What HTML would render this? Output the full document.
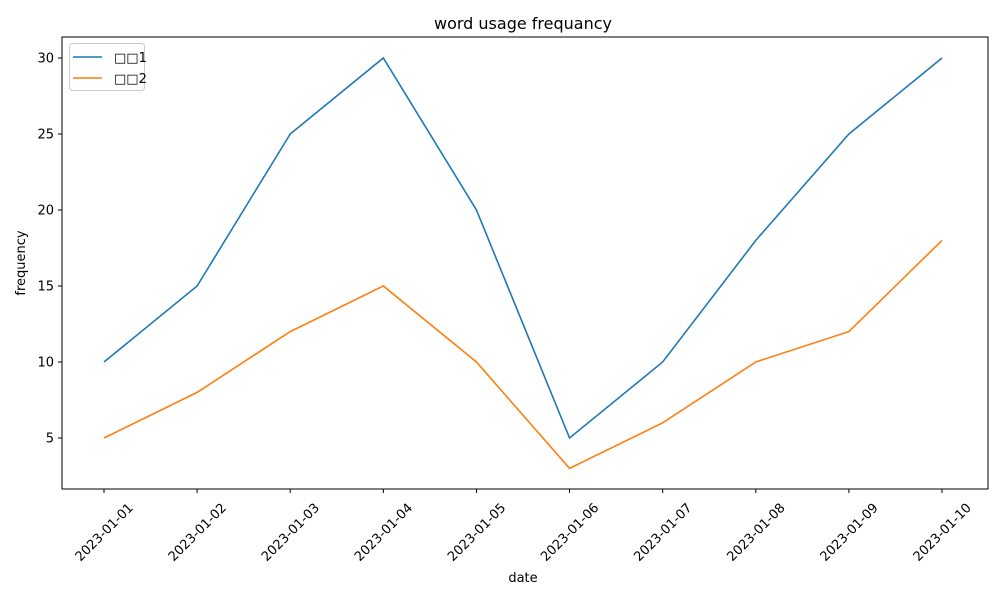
<!DOCTYPE html>
<html><head><meta charset="utf-8"><style>
body{margin:0;background:#fff;}
svg{display:block;font-family:"DejaVu Sans","Liberation Sans",sans-serif;}
</style></head><body>
<svg id="chart" width="1000" height="600"></svg>
<script>
const categories=["2023-01-01","2023-01-02","2023-01-03","2023-01-04","2023-01-05","2023-01-06","2023-01-07","2023-01-08","2023-01-09","2023-01-10"];
const series1=[10,15,25,30,20,5,10,18,25,30];
const series2=[5,8,12,15,10,3,6,10,12,18];
const seriesNames=["□□1","□□2"];
const yTicks=[5,10,15,20,25,30];
const NS="http://www.w3.org/2000/svg";
const svg=document.getElementById('chart');
const L=62,R=988,T=37,B=489;
const xs=i=>104+i*(942-104)/(categories.length-1);
const ys=v=>438-(v-5)*15.2;
function mk(tag,attrs,parent){const e=document.createElementNS(NS,tag);for(const k in attrs)e.setAttribute(k,attrs[k]);(parent||svg).appendChild(e);return e;}
let t=mk('text',{x:523,y:29,'text-anchor':'middle','font-size':16,fill:'#000'});t.textContent='word usage frequancy';


yTicks.forEach(v=>{
 const l=mk('line',{x1:L-4,x2:L,y1:ys(v),y2:ys(v),stroke:'#000'});
 
 
 const tx=mk('text',{x:L-8,y:ys(v)+4.5,'text-anchor':'end','font-size':13,fill:'#000'});tx.textContent=v;
 
 
});
categories.forEach((c,i)=>{
 const l=mk('line',{x1:xs(i),x2:xs(i),y1:B,y2:B+4,stroke:'#000'});
 
 
 const tx=mk('text',{x:0,y:4.5,'text-anchor':'middle','font-size':13,fill:'#000',transform:`translate(${xs(i)},532) rotate(-45)`});tx.textContent=c;
 
 
});
t=mk('text',{x:523,y:582,'text-anchor':'middle','font-size':13});t.textContent='date';


t=mk('text',{x:0,y:0,'text-anchor':'middle','font-size':13,transform:'translate(25,263) rotate(-90)'});t.textContent='frequency';


[[series1,'#1f77b4'],[series2,'#ff7f0e']].forEach(([s,c],k)=>{
 const p=mk('polyline',{points:s.map((v,i)=>xs(i)+','+ys(v)).join(' '),fill:'none',stroke:c,'stroke-width':1.6});
 
 
});
const fr=mk('rect',{x:L,y:T,width:R-L,height:B-T,fill:'none',stroke:'#000','stroke-width':1});


const lg=mk('g',{});


mk('rect',{x:69.5,y:43.5,width:75,height:47,rx:3,fill:'#fff',stroke:'#ccc'},lg);
['#1f77b4','#ff7f0e'].forEach((c,k)=>{
 const e=mk('g',{},lg);
 
 
 mk('line',{x1:73,x2:102,y1:57+k*21,y2:57+k*21,stroke:c,'stroke-width':1.6},e);
 const tx=mk('text',{x:114,y:62+k*21,'font-size':13},e);tx.textContent=seriesNames[k];
});
</script>
</body></html>
